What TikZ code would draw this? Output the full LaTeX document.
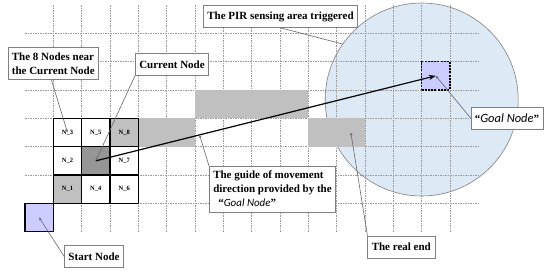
\documentclass[tikz,border=0pt]{standalone}
\usepackage{fontspec}
\setmainfont{Liberation Serif}
\newfontfamily\goalfont{Carlito}
\usetikzlibrary{arrows.meta, positioning}
\definecolor{lavender}{RGB}{204,204,255}
\definecolor{pirblue}{RGB}{222,233,246}
\definecolor{barGray}{RGB}{192,192,192}
\definecolor{curGray}{RGB}{150,150,150}

\begin{document}
\begin{tikzpicture}[x=1pt, y=-1pt, >=Stealth, node distance=0pt,
    gridline/.style={gray!80, dash pattern=on 1.5pt off 1pt, line width=0.5pt},
    cell/.style={draw, line width=1.2pt, minimum size=28.33pt, inner sep=0pt,
                 outer sep=0pt, font=\fontsize{6.5}{7}\selectfont\bfseries},
    bar/.style={fill=barGray, minimum size=28.33pt, inner sep=0pt, outer sep=0pt},
    callout/.style={draw=gray, line width=0.6pt, fill=white, inner xsep=4pt,
                    inner ysep=5pt, minimum height=22pt, align=left,
                    font=\fontsize{11}{14}\selectfont\bfseries},
    leader/.style={draw=gray!80!black, line width=0.6pt},
    pointer/.style={leader, -{Stealth[length=3pt, width=2.5pt]}},
    move/.style={line width=1.2pt, -{Stealth[length=7pt, width=5pt]}}]
  \useasboundingbox (0,0) rectangle (550,271);

  \node[circle, draw=gray, fill=pirblue, line width=0.6pt,
        minimum size=193pt] (pir) at (421.7,99.5) {};

  \foreach \j in {0,...,6}
    \draw[gridline] (25,{33.33+28.33*\j}) -- (478.3,{33.33+28.33*\j});
  \foreach \i in {0,...,14}
    \draw[gridline] ({53.33+28.33*\i},5) -- ({53.33+28.33*\i},231.7);

  \foreach \c in {4,5}
    \node[bar] at ({39.17+28.33*\c},132.5) {};
  \foreach \c in {6,...,9}
    \node[bar] at ({39.17+28.33*\c},104.17) {};
  \node[bar] (end1) at (322.5,132.5) {};
  \node[bar, right=of end1] (realend) {};

  \node[cell] (n3) at (67.5,132.5) {N\_3};
  \node[cell, right=of n3] (n5) {N\_5};
  \node[cell, fill=barGray, right=of n5] (n8) {N\_8};
  \node[cell, below=of n3] (n2) {N\_2};
  \node[cell, fill=curGray, right=of n2] (cur) {};
  \node[cell, right=of cur] (n7) {N\_7};
  \node[cell, fill=barGray, below=of n2] (n1) {N\_1};
  \node[cell, right=of n1] (n4) {N\_4};
  \node[cell, right=of n4] (n6) {N\_6};
  \node[cell, fill=lavender, below left=of n1] (start) {};
  \node[cell, fill=lavender, dash pattern=on 2pt off 1.2pt] (goal) at (435.8,75.8) {};

  \draw[move] (cur.center) -- (goal.center) coordinate[pos=0.305] (guidept);

  \node[callout] (pirlbl) at (280.5,16.5) {The PIR sensing area triggered};
  \node[callout] (nearlbl) at (53.3,63.3) {The 8 Nodes near\\the Current Node};
  \node[callout] (curlbl) at (172,64.5) {Current Node};
  \node[callout] (startlbl) at (94,256.5) {Start Node};
  \node[callout] (guidelbl) at (272.5,189)
    {The guide of movement\\direction provided by the\\
     \hspace{5pt}“{\goalfont\mdseries\itshape Goal Node}”};
  \node[callout] (endlbl) at (401.3,247) {The real end};
  \node[callout] (goallbl) at (507,118)
    {“{\goalfont\mdseries\itshape\fontsize{12.5}{14}\selectfont Goal Node}”};

  \draw[leader] (pirlbl.south) -- (pir.145);
  \draw[pointer] ([xshift=-2pt]nearlbl.south) -- (n3.center);
  \draw[pointer] (curlbl.south west) -- (cur.center);
  \draw[pointer] (startlbl.west) -- (start.center);
  \draw[pointer] (guidelbl.north west) -- (guidept);
  \draw[pointer] (endlbl.north west) -- (realend.center);
  \draw[pointer] (goallbl.west) -- (goal.center);
\end{tikzpicture}
\end{document}
